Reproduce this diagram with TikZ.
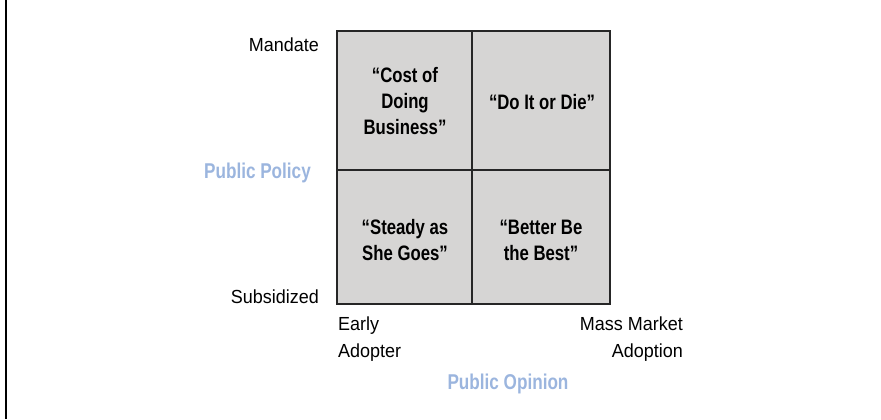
\documentclass[tikz,border=0pt]{standalone}
\usepackage{fontspec}
\setmainfont{Liberation Sans}
\newfontfamily\condbold[FakeStretch=0.8]{Liberation Sans Bold}
\newfontfamily\condreg[FakeStretch=0.95]{Liberation Sans}
\definecolor{quadgray}{RGB}{214,213,212}
\definecolor{axisblue}{RGB}{155,181,222}
\begin{document}
\begin{tikzpicture}[x=1bp,y=-1bp,
  quadtext/.style={font=\condbold\fontsize{21}{26}\selectfont, align=center, text=black, inner sep=0pt, anchor=base},
  axlabel/.style={font=\condreg\fontsize{19}{27}\selectfont, text=black, inner sep=0pt},
  axtitle/.style={font=\condbold\fontsize{21.5}{24}\selectfont, text=axisblue, inner sep=0pt},
  gridline/.style={draw=black!85, line width=1.3bp}]
\useasboundingbox (0,0) rectangle (881,419);
\draw[line width=2.2bp] (6,0) -- (6,419);
% quadrants
\coordinate (tl) at (337,31);
\coordinate (br) at (610,304);
\coordinate (mid) at (472,170);
\fill[quadgray] (tl) rectangle (br);
\draw[gridline] (tl) rectangle (br);
\draw[gridline] (tl -| mid) -- (br -| mid);
\draw[gridline] (tl |- mid) -- (br |- mid);
\node[quadtext] (q1) at (405,134) {“Cost of\\Doing\\Business”};
\node[quadtext] (q2) at (542,109) {“Do It or Die”};
\node[quadtext] (q3) at (405,260) {“Steady as\\She Goes”};
\node[quadtext] (q4) at (541,260) {“Better Be\\the Best”};
% axis labels
\node[axlabel, anchor=base east] (mand) at (319,51) {Mandate};
\node[axlabel, anchor=base east] (subs) at (319,303) {Subsidized};
\node[axtitle, anchor=base east] (pp) at (311,178) {Public Policy};
\node[axlabel, anchor=base west, align=left] (early) at (338,357) {Early\\Adopter};
\node[axlabel, anchor=base east, align=right] (mass) at (683,357) {Mass Market\\Adoption};
\node[axtitle, anchor=base] (po) at (508,389) {Public Opinion};
\end{tikzpicture}
\end{document}
